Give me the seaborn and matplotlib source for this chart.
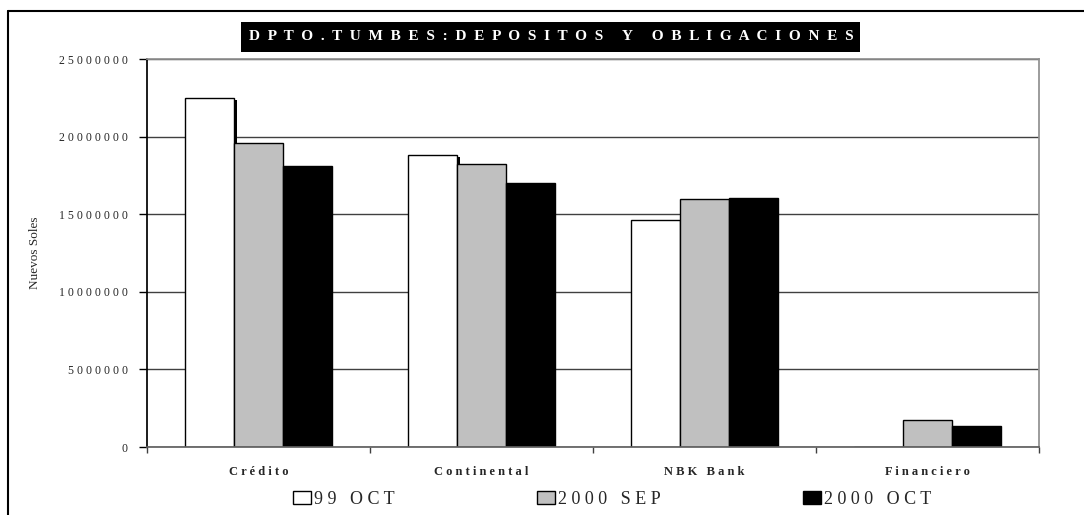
import matplotlib
matplotlib.use("Agg")
import matplotlib.pyplot as plt
import matplotlib.patheffects as pe
from matplotlib.lines import Line2D
from matplotlib.patches import Rectangle
from matplotlib.ticker import FuncFormatter, FixedLocator
import seaborn as sns
import pandas as pd

bancos = ["Crédito", "Continental", "NBK Bank", "Financiero"]
periodos = ["99 OCT", "2000 SEP", "2000 OCT"]
oct_99 = [22500000, 18830000, 14630000, 0]
sep_2000 = [19600000, 18250000, 15980000, 1740000]
oct_2000 = [18130000, 17000000, 16040000, 1370000]
colores = ["white", "#C0C0C0", "black"]
titulo = "DPTO.TUMBES:DEPOSITOS Y OBLIGACIONES"


def spaced(s, sep=" "):
    # imitate the wide letter spacing of the original
    return sep.join(s)


df = pd.DataFrame({
    "banco": bancos * 3,
    "periodo": [p for p in periodos for _ in bancos],
    "valor": oct_99 + sep_2000 + oct_2000,
})

sns.set_theme(style="white")
plt.rcParams["font.family"] = ["Liberation Serif", "DejaVu Serif"]

fig = plt.figure(figsize=(10.84, 5.15), dpi=100)
ax = fig.add_axes([147 / 1084, 68 / 515, 892 / 1084, 388 / 515])

sns.barplot(
    data=df, x="banco", y="valor", hue="periodo", hue_order=periodos,
    palette=dict(zip(periodos, colores)), edgecolor="black", linewidth=1,
    width=0.66, gap=0, ax=ax, legend=False,
)

# the white bars carry a small black drop shadow in the original
for bar in ax.patches:
    if bar.get_facecolor()[:3] == (1.0, 1.0, 1.0) and bar.get_height() > 0:
        bar.set_path_effects([
            pe.SimplePatchShadow(offset=(2.2, -1.5), shadow_rgbFace="black", alpha=1),
            pe.Normal(),
        ])

ax.set_ylim(0, 25000000)
ax.set_xlim(-0.5, 3.5)
ax.set_yticks(range(0, 25000001, 5000000))
ax.yaxis.set_major_formatter(FuncFormatter(lambda v, p: spaced(f"{int(v)}")))
ax.grid(axis="y", color="#404040", linewidth=1)
ax.set_axisbelow(True)
for side in ["top", "right"]:
    ax.spines[side].set_color("#909090")
ax.spines["left"].set_color("black")
ax.spines["bottom"].set_color("#606060")
ax.tick_params(axis="y", left=True, length=6, width=1, color="black",
               labelsize=8.5, pad=8)
ax.set_xticks(range(len(bancos)))
ax.set_xticklabels([spaced(b) for b in bancos], fontsize=9, fontweight="bold")
ax.xaxis.set_minor_locator(FixedLocator([-0.5, 0.5, 1.5, 2.5, 3.5]))
ax.tick_params(axis="x", which="major", length=0, pad=14)
ax.tick_params(axis="x", which="minor", bottom=True, length=4, width=1,
               color="#404040")
ax.set_xlabel("")
ax.set_ylabel("")
fig.text(35 / 1084, 1 - 253 / 515, "Nuevos Soles", rotation=90, fontsize=9.5,
         ha="center", va="center")

# black title box
fig.add_artist(Rectangle((241 / 1084, 1 - 52 / 515), 619 / 1084, 30 / 515,
                         facecolor="black", edgecolor="none",
                         transform=fig.transFigure))
fig.text(551 / 1084, 1 - 37 / 515, spaced(titulo, "  "), color="white",
         fontsize=11, fontweight="bold", ha="center", va="center")

handles = [plt.Rectangle((0, 0), 1, 1, facecolor=c, edgecolor="black", linewidth=1)
           for c in colores]
fig.legend(handles, [spaced(p) for p in periodos], loc="center",
           bbox_to_anchor=(612 / 1084, 1 - 499 / 515), ncol=3, frameon=False,
           fontsize=13, handlelength=1.0, handleheight=0.7, handletextpad=0.15,
           columnspacing=7.9)

# outer frame of the chart area
fig.add_artist(Line2D([8 / 1084, 8 / 1084], [0, 1 - 11 / 515], color="black",
                      linewidth=1.5, transform=fig.transFigure))
fig.add_artist(Line2D([8 / 1084, 1], [1 - 11 / 515, 1 - 11 / 515], color="black",
                      linewidth=1.5, transform=fig.transFigure))

fig.savefig("out.png", dpi=100)
